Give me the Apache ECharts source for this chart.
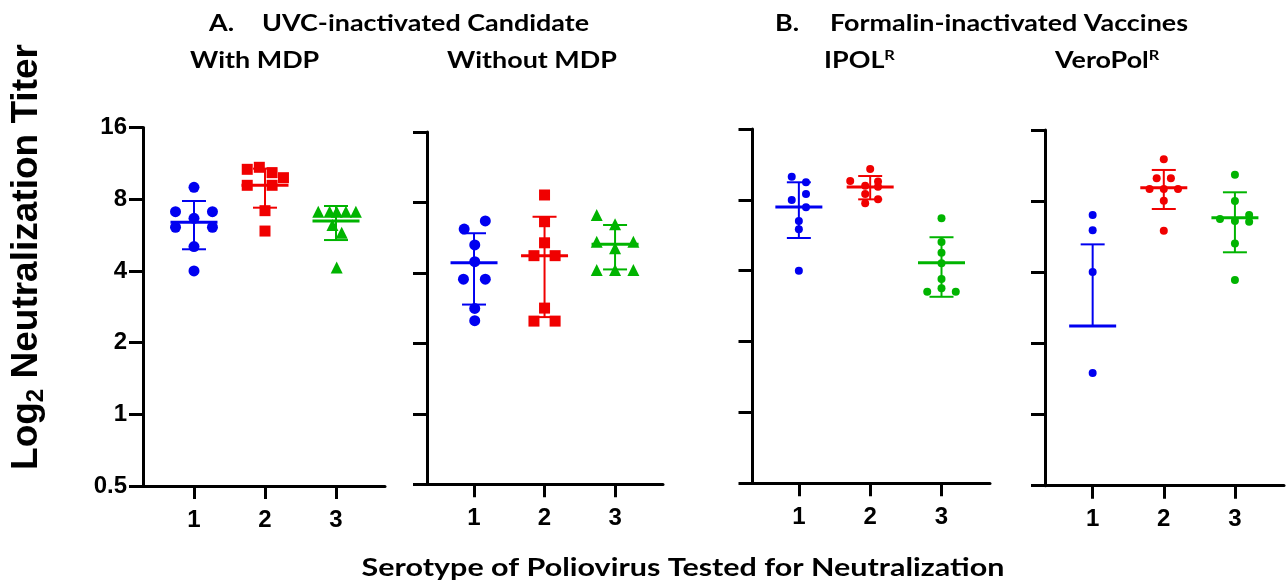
<!DOCTYPE html>
<html>
<head>
<meta charset="utf-8">
<title>Poliovirus neutralization titers</title>
<script src="https://cdn.jsdelivr.net/npm/echarts@6/dist/echarts.min.js"></script>
<style>
  html, body { margin: 0; padding: 0; background: #fff; }
  #chart { width: 1286px; height: 587px; }
</style>
</head>
<body>
<div id="chart"></div>
<script>
// serotypes on the x axis
var serotypes = ['1', '2', '3'];
var colors = ['#0000f0', '#f00000', '#00b400'];

// A. UVC-inactivated, with MDP  ([x position, titer])
var withMdp1 = [[1, 8.97], [0.74, 7.09], [1.26, 7.09], [1, 6.65], [0.74, 6.1], [1.26, 6.1], [1, 5.06], [1, 4.0]];
var withMdp2 = [[1.75, 10.68], [1.92, 10.89], [2.1, 10.34], [2.26, 9.85], [1.75, 9.15], [2.1, 9.15], [2, 7.16], [2, 5.88]];
var withMdp3 = [[2.75, 7.09], [2.91, 7.09], [3.01, 7.09], [3.14, 7.09], [3.28, 7.09], [2.95, 6.23], [3.08, 5.79], [3.01, 4.13]];
var withMdpMean = [6.4, 9.15, 6.48];
var withMdpLo = [4.93, 7.37, 5.39];
var withMdpHi = [7.86, 10.75, 7.49];

// A. UVC-inactivated, without MDP
var noMdp1 = [[1.16, 6.67], [0.86, 6.16], [1.01, 5.27], [1.01, 4.47], [0.85, 3.76], [1.16, 3.76], [1.01, 2.82], [1.01, 2.5]];
var noMdp2 = [[2, 8.61], [2, 6.62], [2, 5.38], [1.85, 4.74], [2.15, 4.74], [2, 2.83], [1.85, 2.49], [2.15, 2.49]];
var noMdp3 = [[2.74, 7.07], [3, 6.45], [2.74, 5.44], [3.26, 5.44], [3, 5.1], [2.74, 4.12], [3, 4.12], [3.26, 4.12]];
var noMdpMean = [4.42, 4.74, 5.30];
var noMdpLo = [2.93, 2.59, 4.14];
var noMdpHi = [5.91, 6.95, 6.41];

// B. IPOL
var ipol1 = [[0.9, 10.03], [1.1, 9.5], [1.1, 8.47], [0.9, 7.99], [1.1, 7.44], [1, 6.51], [1, 6.0], [1, 4.0]];
var ipol2 = [[2, 10.82], [1.72, 9.62], [1.93, 9.19], [2.11, 9.58], [2.11, 9.1], [1.93, 8.47], [1.93, 7.74], [2.11, 8.04]];
var ipol3 = [[3, 6.68], [3, 5.3], [3, 4.77], [3, 4.3], [3, 3.69], [3, 3.37], [2.8, 3.26], [3.2, 3.26]];
var ipolMean = [7.46, 9.07, 4.32];
var ipolLo = [5.51, 8.04, 3.10];
var ipolHi = [9.5, 10.1, 5.55];

// B. VeroPol
var vero1 = [[1, 6.99], [1, 6.02], [1, 4.01], [1, 1.5]];
var vero2 = [[2, 12.03], [1.9, 9.99], [2.1, 9.99], [1.8, 9.01], [2, 9.01], [2.2, 9.01], [2, 8.03], [2, 6.0]];
var vero3 = [[3, 10.35], [3, 8.01], [2.79, 6.72], [3, 6.59], [3.2, 6.99], [3.2, 6.55], [3, 5.3], [3, 3.71]];
var veroMean = [2.37, 9.12, 6.81];
var veroLo = [null, 7.41, 4.86];
var veroHi = [5.25, 10.84, 8.72];

var panels = [
    {points: [withMdp1, withMdp2, withMdp3], mean: withMdpMean, lo: withMdpLo, hi: withMdpHi,
     grid: {left: 143, top: 127.5, width: 242, height: 358.5}, xr: [0.282, 3.69], symbols: ['circle', 'rect', 'triangle'], size: 11},
    {points: [noMdp1, noMdp2, noMdp3], mean: noMdpMean, lo: noMdpLo, hi: noMdpHi,
     grid: {left: 427, top: 132, width: 236, height: 352.3}, xr: [0.333, 3.68], symbols: ['circle', 'rect', 'triangle'], size: 11},
    {points: [ipol1, ipol2, ipol3], mean: ipolMean, lo: ipolLo, hi: ipolHi,
     grid: {left: 752.5, top: 129, width: 237.5, height: 354.3}, xr: [0.35, 3.68], symbols: ['circle', 'circle', 'circle'], size: 8},
    {points: [vero1, vero2, vero3], mean: veroMean, lo: veroLo, hi: veroHi,
     grid: {left: 1045, top: 130, width: 239, height: 355.7}, xr: [0.33, 3.69], symbols: ['circle', 'circle', 'circle'], size: 8}
];

var chart = echarts.init(document.getElementById('chart'));

function makeErrorRenderer(p) {
    return function (params, api) {
        var k = params.dataIndex;
        var x = k + 1;
        var pm = api.coord([x, p.mean[k]]);
        var ph = api.coord([x, p.hi[k]]);
        var pl = p.lo[k] ? api.coord([x, p.lo[k]]) : pm;
        var c = colors[k];
        var thin = {stroke: c, lineWidth: 2};
        var kids = [
            {type: 'line', shape: {x1: pl[0], y1: pl[1], x2: ph[0], y2: ph[1]}, style: thin},
            {type: 'line', shape: {x1: ph[0] - 12, y1: ph[1], x2: ph[0] + 12, y2: ph[1]}, style: thin},
            {type: 'line', shape: {x1: pm[0] - 23.5, y1: pm[1], x2: pm[0] + 23.5, y2: pm[1]}, style: {stroke: c, lineWidth: 3}}
        ];
        if (p.lo[k]) {
            kids.push({type: 'line', shape: {x1: pl[0] - 12, y1: pl[1], x2: pl[0] + 12, y2: pl[1]}, style: thin});
        }
        return {type: 'group', children: kids};
    };
}

var axisLineStyle = {color: '#000', width: 3};
var grids = [], xAxes = [], yAxes = [], series = [];

panels.forEach(function (p, i) {
    grids.push(p.grid);
    xAxes.push({
        gridIndex: i, type: 'value', min: p.xr[0], max: p.xr[1],
        axisLine: {onZero: false, lineStyle: axisLineStyle},
        axisTick: {customValues: [1, 2, 3], length: 13, lineStyle: axisLineStyle},
        axisLabel: {customValues: [1, 2, 3], formatter: function (v) { return serotypes[Math.round(v) - 1]; },
            margin: 22, fontSize: 24, fontWeight: 'bold', fontFamily: 'Liberation Sans', color: '#000'},
        splitLine: {show: false}
    });
    yAxes.push({
        gridIndex: i, type: 'log', logBase: 2, min: 0.5, max: 16,
        axisLine: {show: true, onZero: false, lineStyle: axisLineStyle},
        axisTick: {show: true, length: 14, lineStyle: axisLineStyle},
        axisLabel: {show: i === 0, margin: 16, fontSize: 24, fontWeight: 'bold', fontFamily: 'Liberation Sans', color: '#000'},
        splitLine: {show: false}
    });
    p.points.forEach(function (pts, k) {
        series.push({
            type: 'scatter', xAxisIndex: i, yAxisIndex: i,
            symbol: p.symbols[k], symbolSize: p.symbols[k] === 'triangle' ? 12 : p.size,
            itemStyle: {color: colors[k], opacity: 1},
            data: pts, z: 2
        });
    });
    series.push({
        type: 'custom', xAxisIndex: i, yAxisIndex: i,
        renderItem: makeErrorRenderer(p),
        data: p.mean.map(function (m, k) { return [k + 1, m]; }),
        z: 3
    });
});

var titleFont = 'bold 23px Lato';
var supFont = 'bold 14px Lato';
var sx = 1.17;
function titleText(x, y, txt) {
    return {type: 'text', x: x, y: y, scaleX: sx,
        style: {text: txt, font: titleFont, fill: '#000', textVerticalAlign: 'middle',
            rich: {a: {font: titleFont}, s: {font: supFont, padding: [0, 0, 12, 0]}}}};
}

var option = {
    animation: false,
    grid: grids,
    xAxis: xAxes,
    yAxis: yAxes,
    series: series,
    graphic: [
        titleText(209, 24, 'A.'),
        titleText(262, 24, 'UVC-inactivated Candidate'),
        titleText(775, 24, 'B.'),
        titleText(830, 24, 'Formalin-inactivated Vaccines'),
        titleText(190, 61, 'With MDP'),
        titleText(447, 61, 'Without MDP'),
        titleText(824, 61, '{a|IPOL}{s|R}'),
        titleText(1055, 61, '{a|VeroPol}{s|R}'),
        {type: 'text', x: 683, y: 568, scaleX: 1.27,
            style: {text: 'Serotype of Poliovirus Tested for Neutralization',
                font: 'bold 24px Lato', fill: '#000', textAlign: 'center', textVerticalAlign: 'middle'}},
        {type: 'text', x: 27, y: 257, rotation: Math.PI / 2,
            style: {text: '{a|Log}{s|2}{a| Neutralization Titer}', fill: '#000', textAlign: 'center', textVerticalAlign: 'middle',
                rich: {a: {font: 'bold 37px "Liberation Sans"'}, s: {font: 'bold 24px "Liberation Sans"', padding: [18, 0, 0, 0]}}}}
    ]
};
chart.setOption(option);
</script>
</body>
</html>
